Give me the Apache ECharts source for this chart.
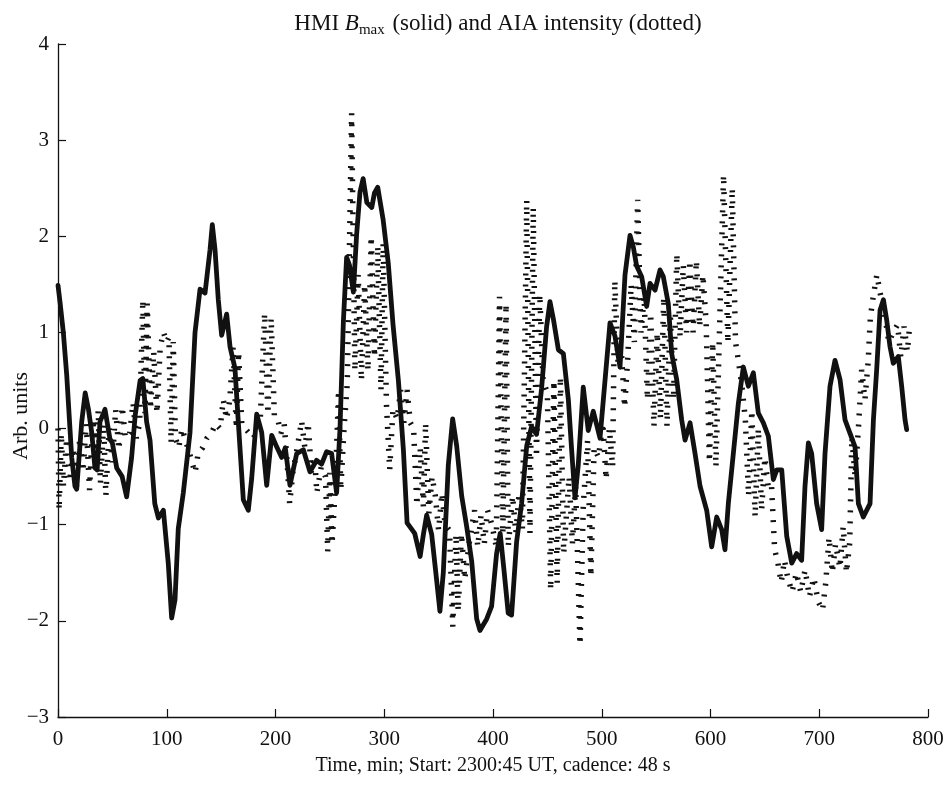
<!DOCTYPE html>
<html>
<head>
<meta charset="utf-8">
<script src="https://cdn.jsdelivr.net/npm/echarts@6/dist/echarts.min.js"></script>
<style>
html,body{margin:0;padding:0;background:#fff;}
#chart{width:951px;height:785px;}
</style>
</head>
<body>
<div id="chart"></div>
<script>
// ---- Data ----
const xTicks = [0, 100, 200, 300, 400, 500, 600, 700, 800];
const yTicks = [-3, -2, -1, 0, 1, 2, 3, 4];

// HMI B_max (solid): time (min) and value (arb. units)
const solidT = [0,2,4.9,8,12.6,15.6,17.2,21.8,25,28,31,34,36,38.6,43.2,47.8,50,54,59,63.1,67.7,71,75.5,78,81.5,84.6,89,92.3,96.9,101.4,104.5,107.6,110.6,115.2,121.4,126,130.6,135.2,139.8,141.9,144.4,147.4,150.5,155.1,158.2,162.7,165.8,170.4,175,178.1,182.7,187.3,191.9,196.5,201.1,205.7,209,213.3,219.5,225.6,231.7,237.8,242.4,247,251.6,256.2,259.3,262.4,265.4,268,271.6,274.6,277.7,280.6,284,288.5,291,294,299,303.7,308,313,317.6,321,328,333,336,339,343.6,348.2,351.2,354.3,358.9,362.9,366.6,371.2,375.8,380.4,385,388,394.2,398.7,403.3,406.6,410,414,417.1,421.7,426.3,431,435.5,440.1,444.7,449.3,452.4,455.5,460.1,464.7,469.3,472.3,475.4,478.4,483,487.6,492.2,498.4,503,507.6,512.2,516.8,521.4,526,529,532.1,536.7,541.3,544.4,549,553.6,556.6,561.2,564.3,568.9,573.5,576.6,581.2,585.8,590.4,596.5,601.1,605.7,610.3,613.3,616.4,621,625.6,630.2,634.8,639.4,644,648.6,653.2,657.8,660.9,665.5,670.1,674.7,679.2,683.8,686.9,690,693,697.6,702.2,705.3,709.9,714.5,719.1,723.7,728.3,732.9,736,740.5,746.7,749.8,752.8,755.9,759,762,765.1,768.1,772.7,775.8,778.9,780.4];
const solidV = [1.49,1.3,1.0,0.56,-0.3,-0.6,-0.63,0.07,0.37,0.2,-0.04,-0.41,-0.43,0.07,0.2,-0.11,-0.15,-0.41,-0.5,-0.71,-0.3,0.14,0.5,0.52,0.07,-0.12,-0.78,-0.93,-0.85,-1.4,-1.97,-1.78,-1.04,-0.67,-0.04,1.0,1.45,1.41,1.86,2.12,1.86,1.34,0.97,1.19,0.85,0.63,0.07,-0.74,-0.85,-0.52,0.15,-0.04,-0.59,-0.07,-0.19,-0.3,-0.2,-0.59,-0.26,-0.22,-0.45,-0.33,-0.37,-0.24,-0.26,-0.67,0,1.11,1.78,1.7,1.42,2.02,2.46,2.6,2.35,2.3,2.45,2.51,2.17,1.72,1.09,0.5,-0.22,-0.98,-1.09,-1.33,-1.1,-0.9,-1.1,-1.58,-1.9,-1.5,-0.38,0.1,-0.18,-0.7,-1.02,-1.38,-1.98,-2.1,-1.98,-1.85,-1.3,-1.09,-1.46,-1.92,-1.94,-1.18,-0.78,-0.18,0.02,-0.06,0.42,1.06,1.32,1.14,0.82,0.78,0.3,-0.22,-0.72,-0.38,0.43,-0.02,0.18,-0.1,0.5,1.1,0.96,0.64,1.6,2.01,1.89,1.69,1.58,1.27,1.51,1.44,1.65,1.58,1.3,0.78,0.51,0.09,-0.12,0.06,-0.26,-0.6,-0.85,-1.23,-0.92,-1.05,-1.26,-0.78,-0.26,0.26,0.64,0.44,0.58,0.16,0.06,-0.08,-0.53,-0.43,-0.43,-1.12,-1.4,-1.3,-1.37,-0.6,-0.15,-0.26,-0.78,-1.05,-0.26,0.44,0.71,0.51,0.09,-0.05,-0.19,-0.78,-0.92,-0.78,0.09,0.61,1.23,1.34,1.13,0.85,0.68,0.75,0.44,0.09,-0.01];

// AIA intensity (dotted): time (min) and value (arb. units)
const dotT = [0,1,3,5,8,11,14,17,20,23,26,29,32,35,37,39,42,44,47,50,53,56,59,62,66,69,72,75,78,80,82,85,88,91,94,97,100,102,104,106,108,111,114,118,122,126,129,133,137,141,145,149,152,155,158,161,164,166,169,172,180,186,190,193,196,199,202,205,208,211,213,216,220,224,227,230,233,236,238,242,246,248,250,252,255,258,260,263,266,270,273,276,279,282,285,288,291,294,297,299,302,305,308,312,315,318,321,324,327,330,333,336,338,341,344,347,350,353,356,360,363,366,368,371,374,378,383,386,389,392,395,399,403,406,409,412,414,418,421,424,427,431,434,437,440,443,446,450,453,456,459,462,465,470,473,476,480,483,487,490,493,497,501,504,507,510,512,515,518,521,524,527,530,533,536,539,542,545,548,551,554,557,560,563,566,569,572,575,578,581,584,587,590,593,596,599,602,605,608,612,616,620,623,626,629,632,635,638,641,644,647,650,653,656,659,662,665,668,671,675,679,683,687,691,695,699,703,706,709,712,715,719,722,725,728,730,733,736,739,742,745,747,750,753,756,760,764,768,772,775,778,781,783];
const dotV = [0.0,-0.85,-0.05,-0.6,-0.1,-0.55,-0.2,-0.6,-0.1,-0.45,0.05,-0.64,0.1,-0.3,0.19,-0.57,0.05,-0.7,0.0,-0.35,0.2,-0.22,0.23,-0.1,-0.05,0.27,-0.1,0.05,1.34,0.16,1.3,0.2,0.8,0.16,0.85,1.0,0.9,0.95,-0.15,0.9,-0.1,-0.2,0.0,-0.15,-0.3,-0.46,-0.25,-0.2,-0.1,-0.05,0.05,0.0,0.3,0.1,0.3,0.85,0.0,0.8,0.05,0.0,-0.1,0.1,1.2,0.15,1.15,0.12,0.1,-0.05,0.05,-0.4,-0.78,-0.45,-0.2,0.08,-0.2,0.06,-0.46,-0.3,-0.67,-0.4,-0.5,-1.28,-0.46,-1.2,-0.6,0.4,-0.64,0.0,0.47,3.28,0.6,1.6,0.5,1.5,0.6,2.0,0.74,1.9,0.4,1.93,0.26,-0.43,0.2,0.1,0.4,0.06,0.4,0.06,0.0,-0.8,-0.2,-0.81,0.06,-0.88,-0.5,-0.7,-1.06,-0.67,-1.0,-1.06,-2.06,-1.1,-1.9,-1.09,-1.57,-1.2,-0.85,-1.23,-0.9,-1.2,-0.85,-1.0,-1.23,1.37,-1.1,1.3,-1.23,-0.7,-1.09,-0.67,-1.05,2.38,-1.09,2.3,-0.3,1.4,0.5,0.37,-1.68,0.5,-1.61,0.54,-1.3,-0.5,-1.2,-0.6,-2.25,-0.8,-0.12,-1.54,-0.2,-0.3,0.06,-0.53,0.0,-0.4,1.54,0.68,0.81,0.22,0.75,1.5,0.9,2.38,1.0,1.37,0.3,1.2,0.02,1.0,0.1,1.37,0.02,1.2,0.3,1.82,0.95,1.7,1.0,1.75,1.0,1.75,1.06,1.6,1.1,-0.35,0.9,-0.4,0.9,2.64,0.89,2.5,0.9,0.68,0.43,0.1,-0.7,0.19,-0.92,0.0,-0.85,-0.3,-0.6,-0.57,-1.26,-1.4,-1.6,-1.37,-1.55,-1.7,-1.5,-1.7,-1.47,-1.75,-1.55,-1.8,-1.89,-1.6,-1.13,-1.5,-1.2,-1.45,-1.02,-1.5,-1.19,-0.09,-0.5,0.0,0.61,0.3,0.7,1.16,1.4,1.6,1.41,1.2,0.9,1.0,1.08,0.74,1.06,0.8,1.05];

// ---- Chart ----
const FONT = '"Liberation Serif", "Times New Roman", serif';
const INK = '#111';
const chart = echarts.init(document.getElementById('chart'), null, {renderer: 'canvas'});

const fmt = v => (v < 0 ? '\u2212' + Math.abs(v) : String(v));

chart.setOption({
  animation: false,
  backgroundColor: '#fff',
  title: {
    text: '{a|HMI }{b|B}{c|max}{a| (solid) and AIA intensity (dotted)}',
    left: 493,
    textAlign: 'center',
    top: 5,
    textStyle: {
      fontWeight: 'normal',
      rich: {
        a: {fontFamily: FONT, fontSize: 23, fontWeight: 'normal', color: INK, lineHeight: 28, verticalAlign: 'middle'},
        b: {fontFamily: FONT, fontSize: 23, fontWeight: 'normal', fontStyle: 'italic', color: INK, lineHeight: 28, verticalAlign: 'middle'},
        c: {fontFamily: FONT, fontSize: 15, fontWeight: 'normal', color: INK, lineHeight: 15, verticalAlign: 'bottom', padding: [0, 2, 0, 0]}
      }
    }
  },
  grid: {left: 58, right: 23, top: 44, bottom: 68, containLabel: false},
  xAxis: {
    type: 'value',
    min: xTicks[0],
    max: xTicks[xTicks.length - 1],
    interval: xTicks[1] - xTicks[0],
    name: 'Time, min; Start: 2300:45 UT, cadence: 48 s',
    nameLocation: 'middle',
    nameGap: 39,
    nameTextStyle: {fontFamily: FONT, fontSize: 20, color: INK},
    axisLine: {onZero: false, lineStyle: {color: INK, width: 1.3}},
    axisTick: {inside: true, length: 8, lineStyle: {color: INK, width: 1.2}},
    axisLabel: {fontFamily: FONT, fontSize: 21, color: INK, margin: 12, formatter: fmt},
    splitLine: {show: false}
  },
  yAxis: {
    type: 'value',
    min: yTicks[0],
    max: yTicks[yTicks.length - 1],
    interval: yTicks[1] - yTicks[0],
    axisLine: {show: true, onZero: false, lineStyle: {color: INK, width: 1.3}},
    axisTick: {show: true, inside: true, length: 8, lineStyle: {color: INK, width: 1.2}},
    axisLabel: {fontFamily: FONT, fontSize: 21, color: INK, margin: 9, formatter: fmt},
    splitLine: {show: false}
  },
  graphic: [{
    type: 'text',
    x: 21,
    y: 416,
    rotation: Math.PI / 2,
    style: {
      text: 'Arb. units',
      font: '22px ' + FONT,
      fill: INK,
      align: 'center',
      verticalAlign: 'middle',
      textAlign: 'center',
      textVerticalAlign: 'middle'
    }
  }],
  series: [
    {
      name: 'AIA intensity',
      type: 'line',
      data: dotT.map((t, i) => [t, dotV[i]]),
      showSymbol: false,
      symbol: 'none',
      z: 2,
      lineStyle: {color: INK, width: 5.5, type: [2, 9], cap: 'butt', join: 'bevel'}
    },
    {
      name: 'HMI Bmax',
      type: 'line',
      data: solidT.map((t, i) => [t, solidV[i]]),
      showSymbol: false,
      symbol: 'none',
      z: 3,
      lineStyle: {color: INK, width: 4.8, join: 'round', cap: 'round'}
    }
  ]
});
</script>
</body>
</html>
